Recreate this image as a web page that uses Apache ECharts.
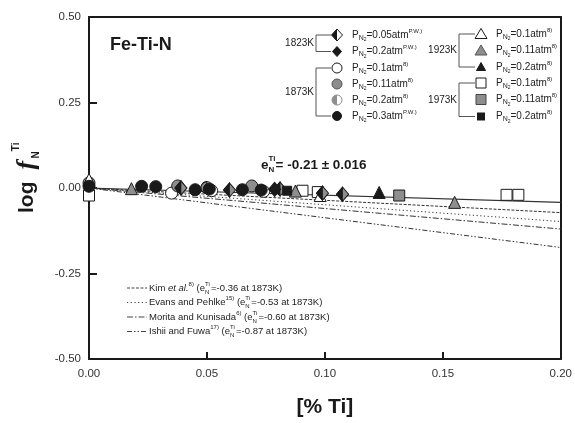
<!DOCTYPE html>
<html>
<head>
<meta charset="utf-8">
<script src="https://cdn.jsdelivr.net/npm/echarts@6/dist/echarts.min.js"></script>
<style>html,body{margin:0;padding:0;background:#fff}#c{width:575px;height:423px}</style>
</head>
<body>
<div id="c"></div>
<script>
// ---------- data ----------
const xTickValues = [0, 0.05, 0.10, 0.15, 0.20];
const yTickValues = [-0.50, -0.25, 0.00, 0.25, 0.50];

// 1823K
const x1823_005 = [0.039, 0.0596, 0.081, 0.099, 0.1075];
const y1823_005 = [0.000, -0.006, -0.003, -0.015, -0.018];
const x1823_02 = [0.0787];
const y1823_02 = [-0.004];
// 1873K
const x1873_01 = [0.035, 0.052, 0.074];
const y1873_01 = [-0.015, -0.008, -0.010];
const x1873_011 = [0.000, 0.0376, 0.069];
const y1873_011 = [0.015, 0.006, 0.006];
const x1873_02 = [0.050];
const y1873_02 = [0.001];
const x1873_03 = [0.000, 0.0223, 0.0283, 0.045, 0.051, 0.065, 0.073];
const y1873_03 = [0.005, 0.005, 0.004, -0.005, -0.003, -0.005, -0.006];
// 1923K
const x1923_01 = [0.000, 0.098];
const y1923_01 = [0.025, -0.022];
const x1923_011 = [0.018, 0.0875, 0.155];
const y1923_011 = [-0.002, -0.009, -0.042];
const x1923_02 = [0.123];
const y1923_02 = [-0.013];
// 1973K
const x1973_01 = [0.000, 0.0905, 0.097, 0.177, 0.182];
const y1973_01 = [-0.022, -0.008, -0.012, -0.020, -0.020];
const x1973_011 = [0.1315];
const y1973_011 = [-0.022];
const x1973_02 = [0.084];
const y1973_02 = [-0.008];

// lines: [x0, x1], [y0, y1]
const lineX = [0, 0.2];
const fitY = [0, -0.042];
const kimY = [0, -0.072];
const evansY = [0, -0.098];
const moritaY = [0, -0.120];
const ishiiY = [0, -0.174];

// ---------- helpers ----------
const FONT = '"Liberation Sans", Arial, Helvetica, sans-serif';
const ctx = document.createElement('canvas').getContext('2d');
function fontStr(p) {
  return (p.italic ? 'italic ' : '') + (p.bold ? 'bold ' : '') + p.size + 'px ' + (p.family || FONT);
}
function run(x, y, parts, color) {
  let cx = x; const out = [];
  for (const p of parts) {
    const f = fontStr(p); ctx.font = f;
    const w = ctx.measureText(p.t).width;
    out.push({type: 'text', x: cx + (p.dx || 0), y: y + (p.dy || 0), silent: true,
      style: {text: p.t, font: f, fill: color || p.color || '#222', verticalAlign: 'middle', align: 'left'}});
    if (!p.noAdv) cx += (p.adv != null ? p.adv : w);
  }
  return out;
}
function zip(xs, ys) { return xs.map((v, i) => [v, ys[i]]); }

const BLACK = '#1a1a1a', GREY = '#8e8e8e', WHITE = '#ffffff';
const HALF_DIA = 'path://M1,0 L0,1 L1,2 Z';
const HALF_CIR = 'path://M10,0 A10,10 0 0 0 10,20 Z';

function sc(name, xs, ys, symbol, size, fill, extra) {
  return Object.assign({
    type: 'scatter', name: name, data: zip(xs, ys), symbol: symbol, symbolSize: size,
    clip: false, itemStyle: {color: fill, borderColor: BLACK, borderWidth: 1, opacity: 1},
    silent: true, z: 3
  }, extra || {});
}
function ln(ys, dash) {
  return {type: 'line', data: zip(lineX, ys), symbol: 'none', silent: true, z: 2,
    lineStyle: {color: '#333', width: dash ? 1 : 1.1, type: dash || 'solid'}};
}

const series = [
  ln(fitY, null), ln(kimY, [3, 1.5]), ln(evansY, [1.2, 2.5]), ln(moritaY, [6, 2, 1.5, 2]), ln(ishiiY, [5, 2, 1.5, 2, 1.5, 2]),
  sc('1973K 0.1', x1973_01, y1973_01, 'rect', 11, WHITE),
  sc('1873K 0.1', x1873_01, y1873_01, 'circle', 12, WHITE),
  sc('1873K 0.11', x1873_011, y1873_011, 'circle', 12, GREY),
  sc('1923K 0.1', x1923_01, y1923_01, 'triangle', 12, WHITE),
  sc('1873K 0.2', x1873_02, y1873_02, 'circle', 12, WHITE),
  sc('1873K 0.2h', x1873_02, y1873_02, HALF_CIR, [6, 12], GREY, {symbolOffset: [-3, 0]}),
  sc('1923K 0.11', x1923_011, y1923_011, 'triangle', 12, GREY),
  sc('1973K 0.11', x1973_011, y1973_011, 'rect', 11, GREY),
  sc('1873K 0.3', x1873_03, y1873_03, 'circle', 12, BLACK),
  sc('1823K 0.05', x1823_005, y1823_005, 'diamond', [12, 14], GREY),
  sc('1823K 0.05h', x1823_005, y1823_005, HALF_DIA, [6, 14], BLACK, {symbolOffset: [-3, 0]}),
  sc('1823K 0.2', x1823_02, y1823_02, 'diamond', [12, 14], BLACK),
  sc('1973K 0.2', x1973_02, y1973_02, 'rect', 9, BLACK),
  sc('1923K 0.2', x1923_02, y1923_02, 'triangle', 12, BLACK)
];

// ---------- graphic (legend & labels) ----------
const G = [];
// title
G.push(...run(110, 45, [{t: 'Fe-Ti-N', size: 18, bold: true}], '#1a1a1a'));
// fit label
G.push(...run(261, 165, [
  {t: 'e', size: 13.5, bold: true},
  {t: 'Ti', size: 8, bold: true, dy: -6, noAdv: true},
  {t: 'N', size: 8, bold: true, dy: 5, adv: 7},
  {t: '= -0.21 \u00b1 0.016', size: 13.5, bold: true}
], '#1a1a1a'));

// y-axis label (rotated, reads bottom to top)
G.push({type: 'group', x: 27, y: 213, rotation: Math.PI / 2, silent: true, children: run(0, 0, [
  {t: 'log', size: 21, bold: true},
  {t: ' ', size: 21, bold: true, adv: 12},
  {t: 'f', size: 26, bold: true, italic: true, family: '"Liberation Serif", serif', adv: 11},
  {t: 'N', size: 10, bold: true, dy: 9},
  {t: 'Ti', size: 10, bold: true, dy: -11}
], '#1a1a1a')});

// marker legend
function legIcon(kind, cx, cy) {
  const st = (fill) => ({fill: fill, stroke: BLACK, lineWidth: 1});
  const s = 5.5;
  switch (kind) {
    case 'halfdia': return [
      {type: 'polygon', shape: {points: [[cx, cy - s - 0.5], [cx + s, cy], [cx, cy + s + 0.5], [cx - s, cy]]}, style: st(WHITE)},
      {type: 'polygon', shape: {points: [[cx, cy - s - 0.5], [cx, cy + s + 0.5], [cx - s, cy]]}, style: {fill: BLACK}}];
    case 'dia': return [{type: 'polygon', shape: {points: [[cx, cy - 5], [cx + 4.5, cy], [cx, cy + 5], [cx - 4.5, cy]]}, style: st(BLACK)}];
    case 'cirW': return [{type: 'circle', shape: {cx: cx, cy: cy, r: 5}, style: st(WHITE)}];
    case 'cirG': return [{type: 'circle', shape: {cx: cx, cy: cy, r: 5}, style: {fill: GREY, stroke: '#555', lineWidth: 1}}];
    case 'cirH': return [
      {type: 'circle', shape: {cx: cx, cy: cy, r: 5}, style: {fill: WHITE, stroke: GREY, lineWidth: 1}},
      {type: 'sector', shape: {cx: cx, cy: cy, r: 5, r0: 0, startAngle: Math.PI / 2, endAngle: Math.PI * 1.5}, style: {fill: GREY}}];
    case 'cirB': return [{type: 'circle', shape: {cx: cx, cy: cy, r: 4.5}, style: st(BLACK)}];
    case 'triW': return [{type: 'polygon', shape: {points: [[cx, cy - 5.5], [cx + 6, cy + 4.5], [cx - 6, cy + 4.5]]}, style: st(WHITE)}];
    case 'triG': return [{type: 'polygon', shape: {points: [[cx, cy - 5.5], [cx + 6, cy + 4.5], [cx - 6, cy + 4.5]]}, style: {fill: GREY, stroke: '#555', lineWidth: 1}}];
    case 'triB': return [{type: 'polygon', shape: {points: [[cx, cy - 4.5], [cx + 4.5, cy + 3.5], [cx - 4.5, cy + 3.5]]}, style: st(BLACK)}];
    case 'sqW': return [{type: 'rect', shape: {x: cx - 5, y: cy - 5, width: 10, height: 10}, style: st(WHITE)}];
    case 'sqG': return [{type: 'rect', shape: {x: cx - 5, y: cy - 5, width: 10, height: 10}, style: {fill: GREY, stroke: '#444', lineWidth: 1}}];
    case 'sqB': return [{type: 'rect', shape: {x: cx - 4, y: cy - 4, width: 8, height: 8}, style: {fill: BLACK}}];
  }
}
function pLabel(x, y, val, ref) {
  return run(x, y, [
    {t: 'P', size: 10},
    {t: 'N', size: 7, dy: 3},
    {t: '2', size: 5, dy: 5},
    {t: '=' + val + 'atm', size: 10},
    {t: ref, size: 6, dy: -4}
  ], '#222');
}
const legLeft = [
  ['halfdia', '0.05', 'P.W.)'], ['dia', '0.2', 'P.W.)'],
  ['cirW', '0.1', '8)'], ['cirG', '0.11', '8)'], ['cirH', '0.2', '8)'], ['cirB', '0.3', 'P.W.)']
];
const legRight = [
  ['triW', '0.1', '8)'], ['triG', '0.11', '8)'], ['triB', '0.2', '8)'],
  ['sqW', '0.1', '8)'], ['sqG', '0.11', '8)'], ['sqB', '0.2', '8)']
];
const rowsL = [35, 51.5, 68, 84, 100, 116];
const rowsR = [34, 50.5, 67, 83, 99.5, 116.5];
legLeft.forEach((r, i) => { G.push(...legIcon(r[0], 337, rowsL[i])); G.push(...pLabel(352, rowsL[i], r[1], r[2])); });
legRight.forEach((r, i) => { G.push(...legIcon(r[0], 481, rowsR[i])); G.push(...pLabel(496, rowsR[i], r[1], r[2])); });

function bracket(xv, xe, y0, y1) {
  const st = {stroke: '#555', lineWidth: 1, fill: 'none'};
  return {type: 'polyline', silent: true, shape: {points: [[xe, y0], [xv, y0], [xv, y1], [xe, y1]]}, style: st};
}
G.push(bracket(316, 331, rowsL[0], rowsL[1]));
G.push(bracket(316, 331, rowsL[2], rowsL[5]));
G.push(bracket(459, 475, rowsR[0], rowsR[2]));
G.push(bracket(459, 475, rowsR[3], rowsR[5]));
const tempLab = (x, y, t) => ({type: 'text', x: x, y: y, silent: true, style: {text: t, font: '10px ' + FONT, fill: '#222', align: 'right', verticalAlign: 'middle'}});
G.push(tempLab(314, (rowsL[0] + rowsL[1]) / 2, '1823K'));
G.push(tempLab(314, (rowsL[2] + rowsL[5]) / 2, '1873K'));
G.push(tempLab(457, (rowsR[0] + rowsR[2]) / 2, '1923K'));
G.push(tempLab(457, (rowsR[3] + rowsR[5]) / 2, '1973K'));

// line-style legend
const lineLeg = [
  {dash: [3, 1.5], parts: [{t: 'Kim ', size: 9.5}, {t: 'et al.', size: 9.5, italic: true}, {t: '8)', size: 6, dy: -4}]},
  {dash: [1.2, 2.5], parts: [{t: 'Evans and Pehlke', size: 9.5}, {t: '15)', size: 6, dy: -4}]},
  {dash: [6, 2, 1.5, 2], parts: [{t: 'Morita and Kunisada', size: 9.5}, {t: '6)', size: 6, dy: -4}]},
  {dash: [5, 2, 1.5, 2, 1.5, 2], parts: [{t: 'Ishii and Fuwa', size: 9.5}, {t: '17)', size: 6, dy: -4}]}
];
const lineLegVals = ['-0.36', '-0.53', '-0.60', '-0.87'];
const lineRows = [288, 302.5, 317, 331.5];
lineLeg.forEach((r, i) => {
  const y = lineRows[i];
  G.push({type: 'line', silent: true, shape: {x1: 127, y1: y, x2: 147, y2: y}, style: {stroke: '#444', lineWidth: 1, lineDash: r.dash}});
  G.push(...run(149, y, r.parts.concat([
    {t: ' (e', size: 9.5},
    {t: 'Ti', size: 6, dy: -4, noAdv: true},
    {t: 'N', size: 6, dy: 4, adv: 6},
    {t: '=' + lineLegVals[i] + ' at 1873K)', size: 9.5}
  ]), '#222'));
});

// ---------- chart ----------
const chart = echarts.init(document.getElementById('c'), null, {renderer: 'canvas'});
const axisCol = '#1a1a1a';
chart.setOption({
  animation: false,
  backgroundColor: '#fff',
  grid: {left: 89, right: 13, top: 17, bottom: 60, containLabel: false},
  xAxis: [{
    type: 'value', min: xTickValues[0], max: xTickValues[xTickValues.length - 1], interval: 0.05,
    axisLine: {show: true, onZero: false, lineStyle: {color: axisCol, width: 2}},
    axisTick: {show: true, inside: true, length: 7, lineStyle: {color: axisCol, width: 2}},
    axisLabel: {formatter: v => v.toFixed(2), fontSize: 11.5, color: '#333', margin: 9, fontFamily: FONT},
    splitLine: {show: false},
    name: '[% Ti]', nameLocation: 'middle', nameGap: 38,
    nameTextStyle: {fontSize: 21, fontWeight: 'bold', color: '#1a1a1a', fontFamily: FONT}
  }, {
    type: 'value', position: 'top', min: 0, max: 0.2, interval: 0.05,
    axisLine: {show: true, onZero: false, lineStyle: {color: axisCol, width: 2}},
    axisTick: {show: false}, axisLabel: {show: false}, splitLine: {show: false}
  }],
  yAxis: [{
    type: 'value', min: yTickValues[0], max: yTickValues[yTickValues.length - 1], interval: 0.25,
    axisLine: {show: true, onZero: false, lineStyle: {color: axisCol, width: 2}},
    axisTick: {show: true, inside: true, length: 8, lineStyle: {color: axisCol, width: 2}},
    axisLabel: {formatter: v => v.toFixed(2), fontSize: 11.5, color: '#333', margin: 8, fontFamily: FONT},
    splitLine: {show: false}
  }, {
    type: 'value', position: 'right', min: -0.5, max: 0.5, interval: 0.25,
    axisLine: {show: true, onZero: false, lineStyle: {color: axisCol, width: 2}},
    axisTick: {show: false}, axisLabel: {show: false}, splitLine: {show: false}
  }],
  series: series,
  graphic: G
});
</script>
</body>
</html>
